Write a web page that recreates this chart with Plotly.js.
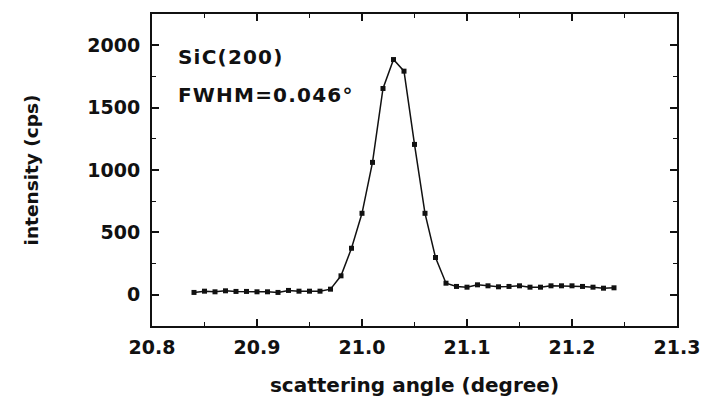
<!DOCTYPE html>
<html>
<head>
<meta charset="utf-8">
<script src="https://cdn.plot.ly/plotly-3.0.1.min.js"></script>
<style>
  html, body { margin: 0; padding: 0; background: #fff; }
  #chart { width: 703px; height: 400px; }
  .annotation-text { letter-spacing: 1.2px; }
</style>
</head>
<body>
<div id="chart"></div>
<script>
// scattering angle (degree)
const angle = [
  20.84, 20.85, 20.86, 20.87, 20.88, 20.89, 20.90, 20.91, 20.92, 20.93, 20.94,
  20.95, 20.96, 20.97, 20.98, 20.99, 21.00, 21.01, 21.02, 21.03, 21.04, 21.05,
  21.06, 21.07, 21.08, 21.09, 21.10, 21.11, 21.12, 21.13, 21.14, 21.15, 21.16,
  21.17, 21.18, 21.19, 21.20, 21.21, 21.22, 21.23, 21.24
];
// intensity (cps)
const intensity = [
  19, 29, 24, 32, 27, 27, 24, 24, 19, 35, 29,
  29, 29, 45, 152, 373, 653, 1061, 1653, 1885, 1792, 1205,
  653, 299, 93, 67, 61, 80, 72, 64, 67, 72, 61,
  61, 72, 72, 72, 67, 61, 53, 56
];
const yTickVals = [0, 500, 1000, 1500, 2000];
const xTickVals = [20.8, 20.9, 21.0, 21.1, 21.2, 21.3];
const labelLines = ["SiC(200)", "FWHM=0.046°"];

const FONT = "DejaVu Sans, Arial, sans-serif";
const INK = "#111111";

const trace = {
  x: angle,
  y: intensity,
  type: "scatter",
  mode: "lines+markers",
  line: { color: INK, width: 1.5 },
  marker: { symbol: "square", size: 5, color: INK },
  showlegend: false,
  hoverinfo: "x+y"
};

const axisCommon = {
  showgrid: false,
  zeroline: false,
  showline: true,
  linecolor: INK,
  linewidth: 2,
  mirror: "ticks",
  ticks: "inside",
  ticklen: 7,
  tickwidth: 1.5,
  tickcolor: INK,
  tickfont: { family: FONT, size: 19, color: INK, weight: "bold" }
};

const layout = {
  width: 703,
  height: 400,
  margin: { l: 152, r: 26, t: 14, b: 74 },
  paper_bgcolor: "#ffffff",
  plot_bgcolor: "#ffffff",
  xaxis: Object.assign({}, axisCommon, {
    range: [20.8, 21.3],
    tickvals: xTickVals,
    tickformat: ".1f",
    ticklabelstandoff: 3,
    minor: { dtick: 0.05, ticks: "inside", ticklen: 4, tickcolor: INK, tickwidth: 1 },
    title: { text: "scattering angle (degree)", font: { family: FONT, size: 20, color: INK, weight: "bold" }, standoff: 21 }
  }),
  yaxis: Object.assign({}, axisCommon, {
    range: [-250, 2250],
    tickvals: yTickVals,
    ticklabelstandoff: 6,
    minor: { dtick: 250, ticks: "inside", ticklen: 4, tickcolor: INK, tickwidth: 1 },
    title: { text: "intensity (cps)", font: { family: FONT, size: 18.5, color: INK, weight: "bold" }, standoff: 44 }
  }),
  annotations: [
    {
      text: labelLines[0], xref: "paper", yref: "paper", x: 0.046, y: 0.862,
      xanchor: "left", yanchor: "middle", showarrow: false,
      font: { family: FONT, size: 20, color: INK, weight: "bold" }
    },
    {
      text: labelLines[1], xref: "paper", yref: "paper", x: 0.046, y: 0.740,
      xanchor: "left", yanchor: "middle", showarrow: false,
      font: { family: FONT, size: 20, color: INK, weight: "bold" }
    }
  ]
};

Plotly.newPlot("chart", [trace], layout, { displayModeBar: false });
</script>
</body>
</html>
